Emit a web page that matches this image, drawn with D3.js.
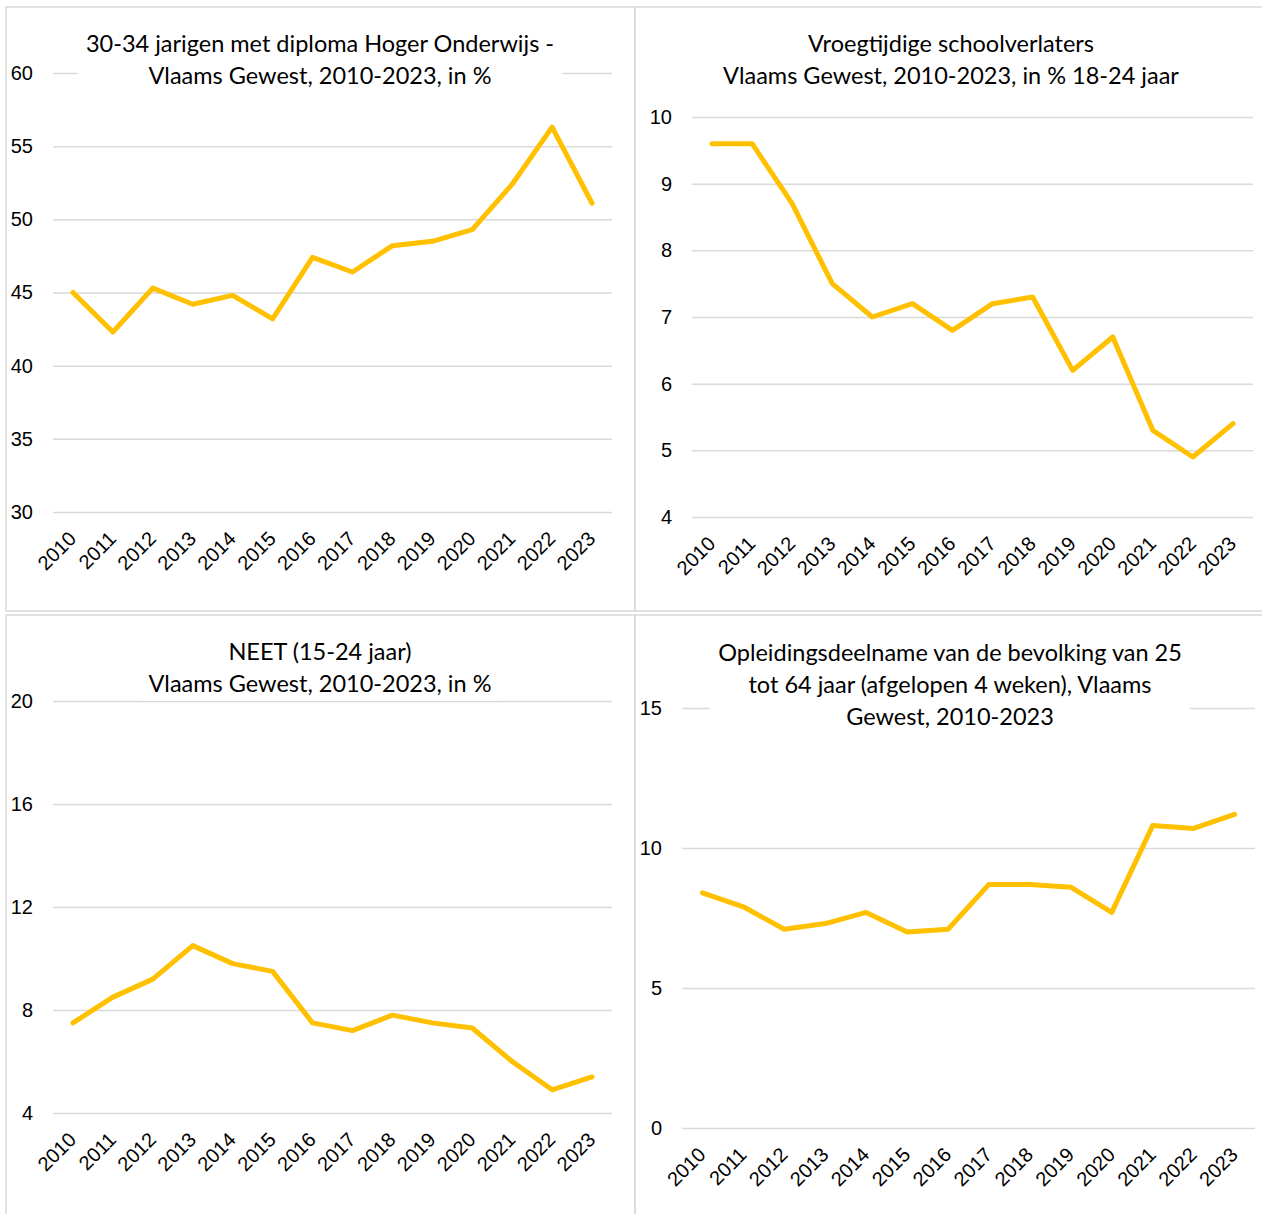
<!DOCTYPE html>
<html>
<head>
<meta charset="UTF-8">
<title>Onderwijsindicatoren Vlaams Gewest</title>
<style>
    body { margin: 0; padding: 0; background: #fff; }
    svg { display: block; }
    .tick text { font-family: "Liberation Sans", Arial, sans-serif; font-size: 20px; fill: #000; }
    .title { font-family: Lato, "Open Sans", sans-serif; font-size: 23.5px; fill: #000; }
</style>
</head>
<body>
<svg width="1262" height="1214"></svg>
<script src="https://d3js.org/d3.v7.min.js"></script>
<script>
// data
var years = ["2010","2011","2012","2013","2014","2015","2016","2017","2018","2019","2020","2021","2022","2023"];
var hogerOnderwijs = [45.0, 42.3, 45.3, 44.2, 44.8, 43.2, 47.4, 46.4, 48.2, 48.5, 49.3, 52.4, 56.3, 51.1];
var schoolverlaters = [9.6, 9.6, 8.7, 7.5, 7.0, 7.2, 6.8, 7.2, 7.3, 6.2, 6.7, 5.3, 4.9, 5.4];
var neet = [7.5, 8.5, 9.2, 10.5, 9.8, 9.5, 7.5, 7.2, 7.8, 7.5, 7.3, 6.0, 4.9, 5.4];
var opleiding = [8.4, 7.9, 7.1, 7.3, 7.7, 7.0, 7.1, 8.7, 8.7, 8.6, 7.7, 10.8, 10.7, 11.2];

var ticksHoger = [30, 35, 40, 45, 50, 55, 60];
var ticksSchool = [4, 5, 6, 7, 8, 9, 10];
var ticksNeet = [4, 8, 12, 16, 20];
var ticksOpl = [0, 5, 10, 15];

var titleHoger = ["30-34 jarigen met diploma Hoger Onderwijs -", "Vlaams Gewest, 2010-2023, in %"];
var titleSchool = ["Vroegtijdige schoolverlaters", "Vlaams Gewest, 2010-2023, in % 18-24 jaar"];
var titleNeet = ["NEET (15-24 jaar)", "Vlaams Gewest, 2010-2023, in %"];
var titleOpl = ["Opleidingsdeelname van de bevolking van 25", "tot 64 jaar (afgelopen 4 weken), Vlaams", "Gewest, 2010-2023"];

// layout of the four panels
var panels = [
    {box: [6, 7, 629, 604], left: 53, right: 612, top: 73, bottom: 512, values: hogerOnderwijs, ticks: ticksHoger, title: titleHoger, cx: 320, ty: 52},
    {box: [635, 7, 633, 604], left: 692, right: 1253, top: 117, bottom: 517, values: schoolverlaters, ticks: ticksSchool, title: titleSchool, cx: 951, ty: 52},
    {box: [6, 615, 629, 610], left: 53, right: 612, top: 701, bottom: 1113, values: neet, ticks: ticksNeet, title: titleNeet, cx: 320, ty: 660},
    {box: [635, 615, 633, 610], left: 682, right: 1255, top: 708, bottom: 1128, values: opleiding, ticks: ticksOpl, title: titleOpl, cx: 950, ty: 661}
];

var svg = d3.select("svg");

panels.forEach(function (p) {
    // panel frame
    svg.append("rect")
        .attr("x", p.box[0]).attr("y", p.box[1])
        .attr("width", p.box[2]).attr("height", p.box[3])
        .attr("fill", "none")
        .attr("stroke", "#d9d9d9")
        .attr("stroke-width", 1.5);

    var x = d3.scalePoint()
        .domain(years)
        .range([p.left, p.right])
        .padding(0.5);

    var y = d3.scaleLinear()
        .domain([p.ticks[0], p.ticks[p.ticks.length - 1]])
        .range([p.bottom, p.top]);

    // gridlines + y labels
    var ya = svg.append("g")
        .attr("transform", "translate(" + p.left + ",0)")
        .call(d3.axisLeft(y)
            .tickValues(p.ticks)
            .tickFormat(d3.format("d"))
            .tickSize(-(p.right - p.left))
            .tickPadding(20));
    ya.select(".domain").remove();
    ya.selectAll(".tick line").attr("stroke", "#d9d9d9").attr("stroke-width", 1.5);

    // x labels
    var xa = svg.append("g")
        .attr("transform", "translate(0," + p.bottom + ")")
        .call(d3.axisBottom(x).tickSize(0));
    xa.select(".domain").remove();
    xa.selectAll(".tick text")
        .attr("y", 0).attr("dy", 0)
        .attr("text-anchor", "end")
        .attr("transform", "translate(4,28) rotate(-45)");

    // title with white backing box
    var tg = svg.append("g");
    var t = tg.append("text")
        .attr("class", "title")
        .attr("text-anchor", "middle");
    p.title.forEach(function (line, i) {
        t.append("tspan").attr("x", p.cx).attr("y", p.ty + i * 32).text(line);
    });
    var bb = t.node().getBBox();
    tg.insert("rect", "text")
        .attr("x", bb.x - 8).attr("y", bb.y - 4)
        .attr("width", bb.width + 16).attr("height", bb.height + 8)
        .attr("fill", "#fff");

    // series
    svg.append("path")
        .datum(p.values)
        .attr("fill", "none")
        .attr("stroke", "#ffc000")
        .attr("stroke-width", 5)
        .attr("stroke-linejoin", "round")
        .attr("stroke-linecap", "round")
        .attr("d", d3.line()
            .x(function (d, i) { return x(years[i]); })
            .y(function (d) { return y(d); }));
});
</script>
</body>
</html>
